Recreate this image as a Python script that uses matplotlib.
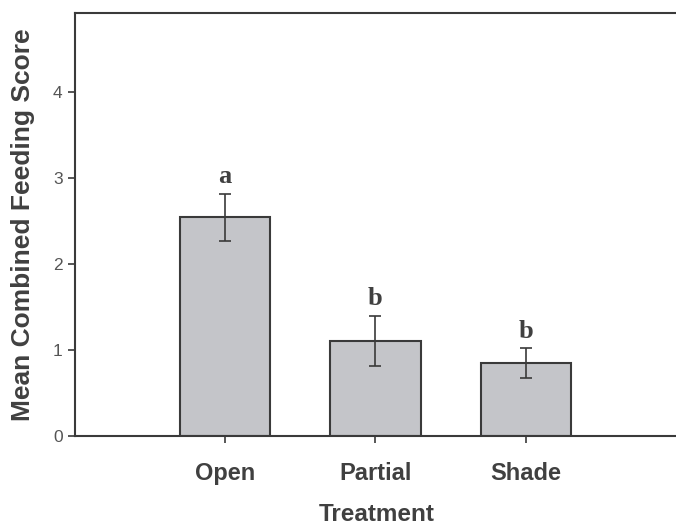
import matplotlib
matplotlib.use("Agg")
import matplotlib.pyplot as plt

# data
treatments = ["Open", "Partial", "Shade"]
means = [2.55, 1.11, 0.85]
err_low = [2.27, 0.82, 0.67]
err_high = [2.82, 1.40, 1.02]
letters = ["a", "b", "b"]

plt.rcParams['font.family'] = ['Liberation Sans', 'DejaVu Sans']
dark = '#3a3a3a'
txt = '#404040'

fig = plt.figure(figsize=(6.76, 5.26), dpi=100)
ax = fig.add_axes([75/676, 90/526, 625/676, 423/526])

x = list(range(len(treatments)))
yerr = [[m - lo for m, lo in zip(means, err_low)],
        [hi - m for m, hi in zip(means, err_high)]]

ax.bar(x, means, width=0.6, color='#c4c5c9', edgecolor=dark, linewidth=1.5, zorder=2)
ax.errorbar(x, means, yerr=yerr, fmt='none', ecolor=dark, elinewidth=1.2,
            capsize=4.5, capthick=1.2, zorder=3)

for xi, hi, lab in zip(x, err_high, letters):
    ax.annotate(lab, (xi, hi), xytext=(0, 4), textcoords='offset points',
                ha='center', va='bottom', fontsize=19, fontweight='bold',
                family='Liberation Serif', color=txt)

ax.set_xlim(-1.0, 3.16)
ax.set_ylim(0, 4.92)
ax.set_yticks([0, 1, 2, 3, 4])
ax.set_xticks(x)
ax.set_xticklabels(treatments, fontsize=17, fontweight='bold', color=txt)
ax.tick_params(axis='y', labelsize=12.5, labelcolor='#555555', length=5,
               width=1.2, color=dark, pad=4)
ax.tick_params(axis='x', length=5, width=1.2, color=dark, pad=14)

ax.set_xlabel('Treatment', fontsize=17.5, fontweight='bold', color=txt, va='top')
ax.xaxis.set_label_coords(0.483, -0.158)
ax.set_ylabel('Mean Combined Feeding Score', fontsize=19, fontweight='bold',
              color=txt, labelpad=13)

for s in ['left', 'top', 'bottom']:
    ax.spines[s].set_color(dark)
    ax.spines[s].set_linewidth(1.5)
ax.spines['right'].set_visible(False)

fig.savefig('out.png', dpi=100)
